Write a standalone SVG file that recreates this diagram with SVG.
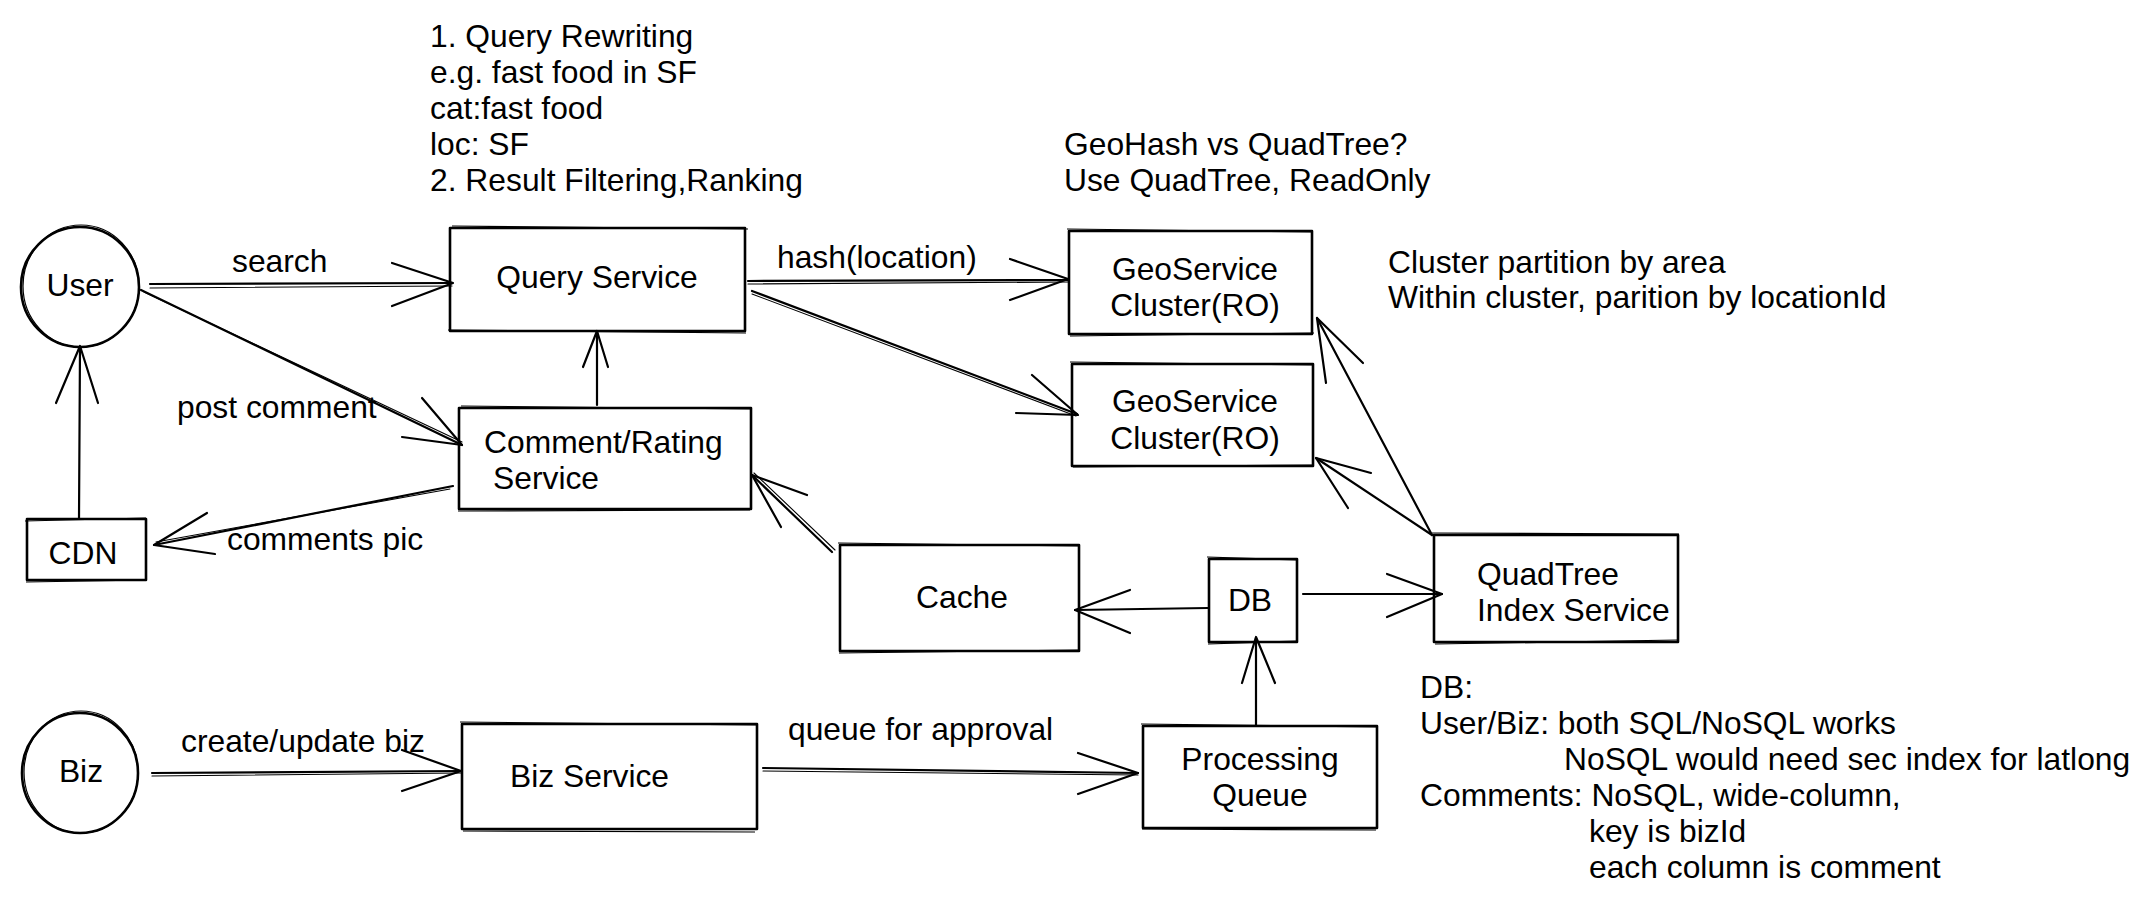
<svg xmlns="http://www.w3.org/2000/svg" width="2153" height="907" viewBox="0 0 2153 907">
<style>
text{font-family:"Liberation Sans",Arial,Helvetica,sans-serif;font-size:31.8px;fill:#000}
.c{text-anchor:middle}
.box{fill:none;stroke:#000;stroke-width:2.6;stroke-linejoin:round}
.sk{fill:none;stroke:#000;stroke-width:1.2}
.ln{fill:none;stroke:#000;stroke-width:2.2;stroke-linecap:round}
.ln2{fill:none;stroke:#000;stroke-width:1.1;stroke-linecap:round}
.hd{fill:none;stroke:#000;stroke-width:2.2;stroke-linecap:round;stroke-linejoin:round}
</style>
<rect width="2153" height="907" fill="#fff"/>

<g id="notes">
<text x="430" y="47">1. Query Rewriting</text>
<text x="430" y="83">e.g. fast food in SF</text>
<text x="430" y="119">cat:fast food</text>
<text x="430" y="155">loc: SF</text>
<text x="430" y="191">2. Result Filtering,Ranking</text>
<text x="1064" y="155">GeoHash vs QuadTree?</text>
<text x="1064" y="191">Use QuadTree, ReadOnly</text>
<text x="1388" y="273">Cluster partition by area</text>
<text x="1388" y="308">Within cluster, parition by locationId</text>
<text x="1420" y="698">DB:</text>
<text x="1420" y="734">User/Biz: both SQL/NoSQL works</text>
<text x="1564" y="770">NoSQL would need sec index for latlong</text>
<text x="1420" y="806">Comments: NoSQL, wide-column,</text>
<text x="1589" y="842">key is bizId</text>
<text x="1589" y="878">each column is comment</text>
</g>

<g id="user">
<ellipse cx="80" cy="287" rx="59" ry="60" class="box"/>
<ellipse cx="81" cy="286" rx="58" ry="61" class="sk"/>
<text class="c" x="80" y="296">User</text>
</g>

<g id="biz">
<ellipse cx="80" cy="773" rx="58" ry="60" class="box"/>
<ellipse cx="81" cy="772" rx="57" ry="61" class="sk"/>
<text class="c" x="81" y="782">Biz</text>
</g>

<g id="query-service">
<rect x="450" y="228" width="295" height="103" class="box"/>
<path d="M452,226 L748,229 M448,330 L746,333" class="sk"/>
<text class="c" x="597" y="288">Query Service</text>
</g>

<g id="comment-service">
<rect x="459" y="408" width="292" height="101" class="box"/>
<path d="M461,406 L752,409 M458,511 L750,510" class="sk"/>
<text x="484" y="453">Comment/Rating</text>
<text x="493" y="489">Service</text>
</g>

<g id="cdn">
<rect x="27" y="519" width="119" height="61" class="box"/>
<path d="M25,521 L146,518 M26,582 L147,580" class="sk"/>
<text class="c" x="83" y="564">CDN</text>
</g>

<g id="geo1">
<rect x="1069" y="231" width="243" height="103" class="box"/>
<path d="M1067,229 L1313,232 M1070,336 L1314,333" class="sk"/>
<text class="c" x="1195" y="280">GeoService</text>
<text class="c" x="1195" y="316">Cluster(RO)</text>
</g>

<g id="geo2">
<rect x="1072" y="364" width="241" height="102" class="box"/>
<path d="M1070,362 L1314,365 M1073,467 L1313,465" class="sk"/>
<text class="c" x="1195" y="412">GeoService</text>
<text class="c" x="1195" y="449">Cluster(RO)</text>
</g>

<g id="quadtree">
<rect x="1434" y="535" width="244" height="107" class="box"/>
<path d="M1432,533 L1679,534 M1435,644 L1678,640" class="sk"/>
<text x="1477" y="585">QuadTree</text>
<text x="1477" y="621">Index Service</text>
</g>

<g id="cache">
<rect x="840" y="545" width="239" height="106" class="box"/>
<path d="M838,543 L1080,546 M839,653 L1079,650" class="sk"/>
<text class="c" x="962" y="608">Cache</text>
</g>

<g id="db">
<rect x="1209" y="559" width="88" height="83" class="box"/>
<path d="M1207,557 L1298,560 M1208,644 L1297,641" class="sk"/>
<text class="c" x="1250" y="611">DB</text>
</g>

<g id="processing-queue">
<rect x="1143" y="726" width="234" height="102" class="box"/>
<path d="M1141,724 L1378,727 M1142,829 L1376,830" class="sk"/>
<text class="c" x="1260" y="770">Processing</text>
<text class="c" x="1260" y="806">Queue</text>
</g>

<g id="biz-service">
<rect x="462" y="724" width="295" height="105" class="box"/>
<path d="M460,722 L758,725 M463,831 L755,832" class="sk"/>
<text x="510" y="787">Biz Service</text>
</g>

<g id="connectors">
<path class="ln" d="M150,284 L452,283"/><path class="ln2" d="M150,288 L452,286"/>
<path class="hd" d="M392,263 L453,283 L392,306"/>
<text x="232" y="272">search</text>

<path class="ln" d="M141,290 L462,445"/><path class="ln2" d="M144,292 L462,442"/>
<path class="hd" d="M422,398 L462,445 L402,437"/>
<text x="177" y="418">post comment</text>

<path class="ln" d="M597,405 L597,331"/>
<path class="hd" d="M583,367 L597,331 L608,367"/>

<path class="ln" d="M79,519 L80,347"/>
<path class="hd" d="M56,403 L80,346 L98,403"/>

<path class="ln" d="M453,486 L154,545"/><path class="ln2" d="M450,489 L156,542"/>
<path class="hd" d="M207,513 L154,545 L215,554"/>
<text x="227" y="550">comments pic</text>

<path class="ln" d="M748,281 L1068,280"/><path class="ln2" d="M748,284 L1068,282"/>
<path class="hd" d="M1010,259 L1068,279 L1010,300"/>
<text x="777" y="268">hash(location)</text>

<path class="ln" d="M752,291 L1077,414"/><path class="ln2" d="M752,294 L1076,416"/>
<path class="hd" d="M1032,375 L1078,415 L1016,413"/>

<path class="ln" d="M1432,535 L1317,318"/>
<path class="hd" d="M1363,363 L1317,318 L1326,383"/>

<path class="ln" d="M1432,535 L1316,458"/>
<path class="hd" d="M1371,473 L1316,458 L1348,508"/>

<path class="ln" d="M832,552 L752,475"/><path class="ln2" d="M835,550 L754,473"/>
<path class="hd" d="M807,495 L752,475 L781,527"/>

<path class="ln" d="M1208,608 L1075,610"/>
<path class="hd" d="M1130,590 L1075,610 L1130,633"/>

<path class="ln" d="M1303,594 L1442,594"/>
<path class="hd" d="M1387,574 L1442,594 L1387,617"/>

<path class="ln" d="M1256,726 L1256,638"/>
<path class="hd" d="M1242,683 L1256,637 L1275,683"/>

<path class="ln" d="M152,773 L461,771"/><path class="ln2" d="M152,776 L461,773"/>
<path class="hd" d="M402,750 L461,771 L402,791"/>
<text x="181" y="752">create/update biz</text>

<path class="ln" d="M763,768 L1138,773"/><path class="ln2" d="M763,771 L1138,775"/>
<path class="hd" d="M1078,753 L1138,773 L1078,794"/>
<text x="788" y="740">queue for approval</text>
</g>
</svg>
